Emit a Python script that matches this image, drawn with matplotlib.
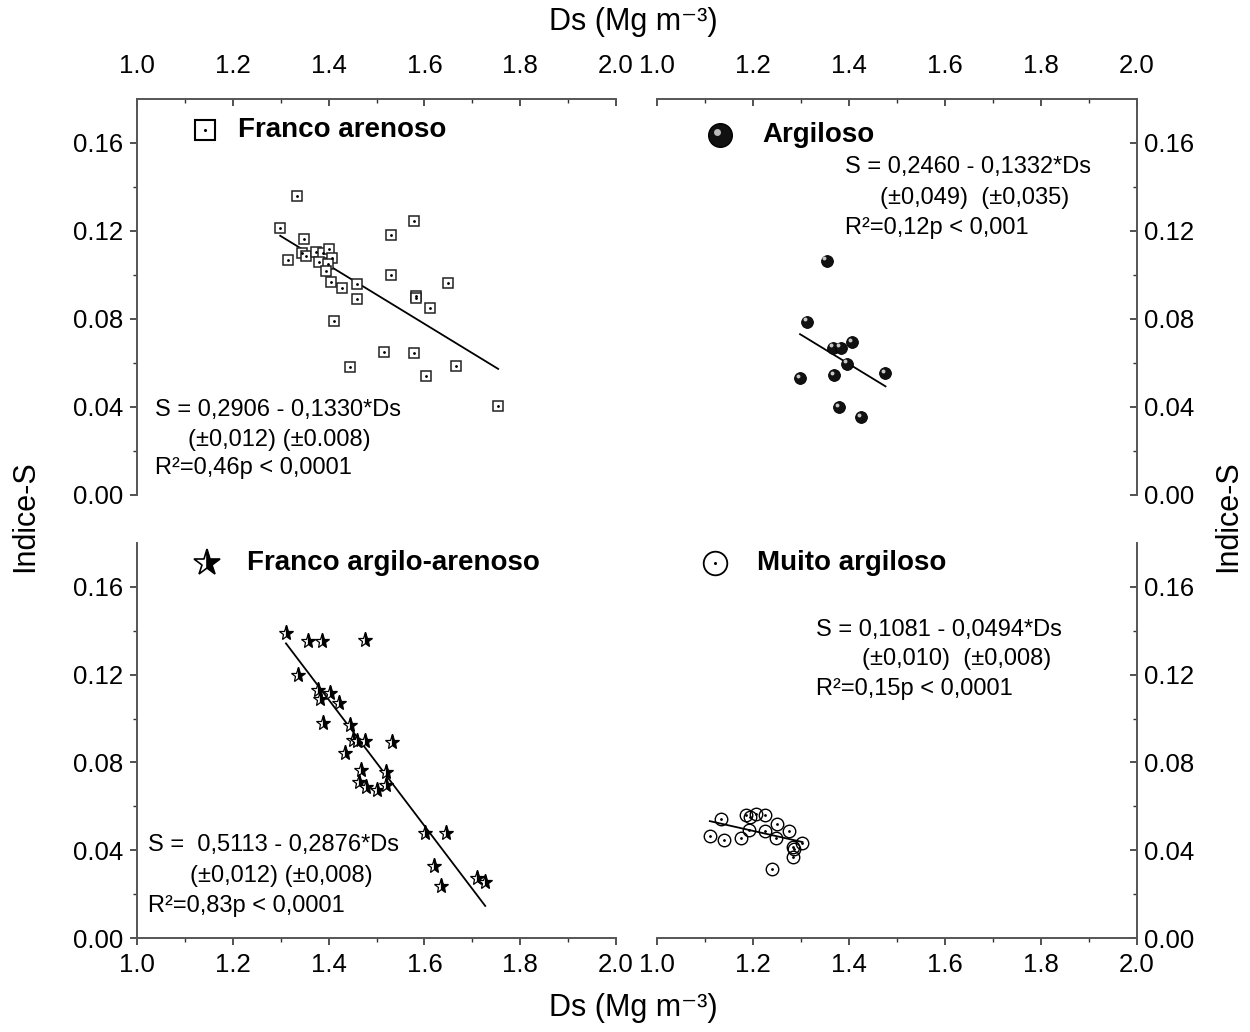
import matplotlib

matplotlib.use("Agg")
import matplotlib.pyplot as plt
import numpy as np
from matplotlib.transforms import offset_copy

plt.rcParams["font.family"] = ["Liberation Sans", "DejaVu Sans"]

# Franco arenoso (open squares)
fa_ds = [1.335, 1.299, 1.578, 1.530, 1.349, 1.316, 1.344, 1.352, 1.373, 1.389, 1.401,
         1.408, 1.381, 1.398, 1.395, 1.405, 1.429, 1.459, 1.459, 1.530, 1.650, 1.583,
         1.582, 1.612, 1.411, 1.516, 1.578, 1.444, 1.665, 1.604, 1.754]
fa_s = [0.136, 0.1212, 0.1244, 0.118, 0.1164, 0.1067, 0.1099, 0.1085, 0.1105, 0.1101, 0.1118,
        0.1079, 0.1061, 0.105, 0.102, 0.0967, 0.0943, 0.0959, 0.0891, 0.1002, 0.0965, 0.0903,
        0.0894, 0.085, 0.0791, 0.0649, 0.0644, 0.0583, 0.0586, 0.0539, 0.0405]
fa_fit = (0.2906, -0.1330)

# Argiloso (spheres)
ar_ds = [1.3535, 1.3125, 1.407, 1.3667, 1.3827, 1.396, 1.476, 1.298, 1.369, 1.380, 1.426]
ar_s = [0.1065, 0.0788, 0.0694, 0.067, 0.067, 0.0597, 0.0555, 0.0533, 0.0544, 0.040, 0.0353]
ar_fit = (0.2460, -0.1332)

# Franco argilo-arenoso (half-filled stars)
faa_ds = [1.311, 1.358, 1.386, 1.476, 1.337, 1.377, 1.403, 1.382, 1.422, 1.388, 1.445,
          1.450, 1.459, 1.476, 1.532, 1.434, 1.468, 1.519, 1.463, 1.478, 1.500, 1.520,
          1.601, 1.645, 1.619, 1.634, 1.709, 1.727]
faa_s = [0.1389, 0.1355, 0.1355, 0.1358, 0.1199, 0.113, 0.1115, 0.1088, 0.1072, 0.0978, 0.097,
         0.0902, 0.0899, 0.0898, 0.0895, 0.0842, 0.0766, 0.0758, 0.0711, 0.0687, 0.0674, 0.0697,
         0.0477, 0.048, 0.033, 0.0238, 0.0272, 0.0257]
faa_fit = (0.5113, -0.2876)

# Muito argiloso (open circles)
ma_ds = [1.1327, 1.110, 1.140, 1.175, 1.185, 1.194, 1.206, 1.226, 1.192, 1.225, 1.249,
         1.248, 1.276, 1.283, 1.285, 1.284, 1.303, 1.240]
ma_s = [0.0544, 0.0465, 0.0445, 0.0457, 0.0562, 0.0553, 0.0565, 0.0562, 0.0492, 0.0488, 0.052,
        0.0457, 0.0489, 0.0416, 0.0404, 0.0369, 0.0433, 0.0314]
ma_fit = (0.1081, -0.0494)

x_ticks = [1.0, 1.2, 1.4, 1.6, 1.8, 2.0]
y_ticks = [0.00, 0.04, 0.08, 0.12, 0.16]

W, H = 1250, 1032
fig = plt.figure(figsize=(W / 100, H / 100), dpi=100)


def px_axes(x0, y0, x1, y1):
    return fig.add_axes([x0 / W, 1 - y1 / H, (x1 - x0) / W, (y1 - y0) / H])


def px_text(x, y, s, **kw):
    fig.text(x / W, 1 - y / H, s, va="center", ha="left", **kw)


ax_tl = px_axes(137, 99, 616, 495)
ax_tr = px_axes(657, 99, 1137, 495)
ax_bl = px_axes(137, 543, 616, 938)
ax_br = px_axes(657, 543, 1137, 938)

spine_col = "#555555"


def style(ax, xside, yside):
    ax.set_xlim(1.0, 2.0)
    ax.set_ylim(0.0, 0.18)
    ax.set_xticks(x_ticks)
    ax.set_xticks(np.arange(1.1, 2.0, 0.2), minor=True)
    ax.set_yticks(y_ticks)
    ax.set_yticks(np.arange(0.02, 0.18, 0.04), minor=True)
    ax.set_xticklabels([f"{t:.1f}" for t in x_ticks])
    ax.set_yticklabels([f"{t:.2f}" for t in y_ticks])
    for side in ["top", "bottom", "left", "right"]:
        ax.spines[side].set_visible(side in (xside, yside))
        ax.spines[side].set_color(spine_col)
        ax.spines[side].set_linewidth(1.4)
    ax.xaxis.set_ticks_position(xside)
    ax.yaxis.set_ticks_position(yside)
    xdir = "in" if xside == "top" else "out"
    ydir = "in" if yside == "right" else "out"
    xpad = 15 if xside == "top" else 6
    ax.tick_params(axis="x", which="major", direction=xdir, length=5, width=1.2,
                   labelsize=18.5, pad=xpad, color="#333333")
    ax.tick_params(axis="x", which="minor", direction=xdir, length=3, width=1.0, color="#333333")
    ax.tick_params(axis="y", which="major", direction=ydir, length=5, width=1.2,
                   labelsize=18.5, pad=5, color="#333333")
    ax.tick_params(axis="y", which="minor", direction=ydir, length=3, width=1.0, color="#333333")
    ax.patch.set_alpha(0)


style(ax_tl, "top", "left")
style(ax_tr, "top", "right")
style(ax_bl, "bottom", "left")
style(ax_br, "bottom", "right")


def fit_line(ax, ds, fit):
    xs = np.array([min(ds), max(ds)])
    ax.plot(xs, fit[0] + fit[1] * xs, color="black", lw=1.3, zorder=2)


def dots(ax, ds, s):
    ax.plot(ds, s, ls="none", marker="o", ms=1.0, color="black", zorder=4)


# Franco arenoso
fit_line(ax_tl, fa_ds, fa_fit)
ax_tl.plot(fa_ds, fa_s, ls="none", marker="s", ms=7.5, mfc="white", mec="#222222",
           mew=1.1, zorder=3)
dots(ax_tl, fa_ds, fa_s)

# Argiloso
fit_line(ax_tr, ar_ds, ar_fit)
ax_tr.plot(ar_ds, ar_s, ls="none", marker="o", ms=8.5, mfc="#111111", mec="black",
           mew=0.6, zorder=3)
hl = offset_copy(ax_tr.transData, fig=fig, x=-1.6, y=1.6, units="points")
ax_tr.plot(ar_ds, ar_s, ls="none", marker="o", ms=2.8, mfc="#c8c8c8", mec="none",
           transform=hl, zorder=4)

# Franco argilo-arenoso
fit_line(ax_bl, faa_ds, faa_fit)
ax_bl.plot(faa_ds, faa_s, ls="none", marker="*", ms=11, fillstyle="right", mfc="black",
           mfcalt="white", mec="black", mew=0.9, zorder=3)

# Muito argiloso
fit_line(ax_br, ma_ds, ma_fit)
ax_br.plot(ma_ds, ma_s, ls="none", marker="o", ms=9, mfc="none", mec="black",
           mew=1.0, zorder=3)
dots(ax_br, ma_ds, ma_s)

# legend symbols and titles
lg = fig.add_axes([0, 0, 1, 1])
lg.set_xlim(0, W)
lg.set_ylim(H, 0)
lg.axis("off")
lg.plot([205], [130], marker="s", ms=14, mfc="white", mec="black", mew=1.5, ls="none")
lg.plot([205], [130], marker="o", ms=1.2, color="black", ls="none")
lg.plot([720], [135], marker="o", ms=17, mfc="#111111", mec="black", ls="none")
lg.plot([716.5], [131.5], marker="o", ms=5, mfc="#bbbbbb", mec="none", ls="none")
lg.plot([207], [563], marker="*", ms=20, fillstyle="right", mfc="black", mfcalt="white",
        mec="black", mew=1.2, ls="none")
lg.plot([715], [563], marker="o", ms=17, mfc="white", mec="black", mew=1.3, ls="none")
lg.plot([715], [563], marker="o", ms=1.2, color="black", ls="none")

px_text(238, 130, "Franco arenoso", fontsize=20, fontweight="bold")
px_text(762, 135, "Argiloso", fontsize=20, fontweight="bold")
px_text(247, 563, "Franco argilo-arenoso", fontsize=20, fontweight="bold")
px_text(757, 563, "Muito argiloso", fontsize=20, fontweight="bold")

eq_fs = 17
px_text(155, 410, "S = 0,2906 - 0,1330*Ds", fontsize=eq_fs)
px_text(188, 440, "(±0,012) (±0.008)", fontsize=eq_fs)
px_text(155, 468, "R²=0,46p < 0,0001", fontsize=eq_fs)

px_text(845, 167, "S = 0,2460 - 0,1332*Ds", fontsize=eq_fs)
px_text(880, 198, "(±0,049)  (±0,035)", fontsize=eq_fs)
px_text(845, 228, "R²=0,12p < 0,001", fontsize=eq_fs)

px_text(148, 845, "S =  0,5113 - 0,2876*Ds", fontsize=eq_fs)
px_text(190, 876, "(±0,012) (±0,008)", fontsize=eq_fs)
px_text(148, 906, "R²=0,83p < 0,0001", fontsize=eq_fs)

px_text(816, 630, "S = 0,1081 - 0,0494*Ds", fontsize=eq_fs)
px_text(862, 659, "(±0,010)  (±0,008)", fontsize=eq_fs)
px_text(816, 689, "R²=0,15p < 0,0001", fontsize=eq_fs)

# axis titles
fig.text(633 / W, 1 - 22 / H, "Ds (Mg m⁻³)", ha="center", va="center", fontsize=22)
fig.text(633 / W, 1 - 1008 / H, "Ds (Mg m⁻³)", ha="center", va="center", fontsize=22)
fig.text(25 / W, 1 - 516 / H, "Indice-S", ha="center", va="center", rotation=90, fontsize=22)
fig.text(1228 / W, 1 - 516 / H, "Indice-S", ha="center", va="center", rotation=90, fontsize=22)

fig.savefig("out.png", dpi=100)
